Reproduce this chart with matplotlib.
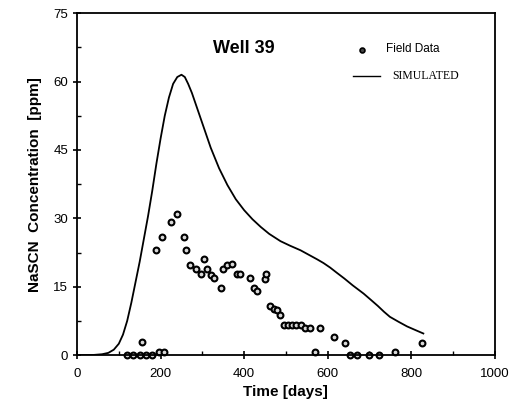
import matplotlib.pyplot as plt
from matplotlib.ticker import MultipleLocator

plt.rcParams['font.family'] = ['Liberation Sans', 'DejaVu Sans']

# field data (days, ppm)
field_t = [120, 135, 150, 155, 165, 180, 188, 196, 204, 208, 224, 239, 255, 262, 270,
           284, 296, 304, 312, 320, 329, 344, 350, 360, 370, 382, 391, 413, 423, 431,
           449, 453, 463, 471, 479, 487, 495, 505, 515, 525, 535, 546, 558, 570, 582,
           614, 642, 654, 671, 698, 723, 761, 825]
field_c = [0, 0, 0, 2.8, 0, 0, 23.0, 0.7, 25.9, 0.7, 29.1, 30.9, 25.9, 23.0, 19.7,
           19.0, 17.9, 21.0, 18.8, 17.5, 17.0, 14.8, 18.8, 19.7, 20.0, 17.7, 17.7, 17.0, 14.8, 14.0,
           16.8, 17.9, 10.7, 10.2, 10.0, 8.8, 6.7, 6.7, 6.7, 6.7, 6.7, 5.9, 5.9, 0.6, 5.9,
           3.9, 2.7, 0, 0, 0, 0, 0.6, 2.7]

# simulated curve
sim_t = [0, 40, 60, 75, 88, 100, 110, 120, 130, 140, 150, 160, 170, 180, 190, 200,
         210, 220, 230, 240, 250, 258, 266, 275, 290, 305, 320, 340, 360, 380, 400,
         420, 440, 460, 487, 510, 535, 555, 575, 590, 606, 620, 640, 660, 686, 705,
         720, 735, 749, 770, 790, 810, 829]
sim_c = [0, 0.05, 0.2, 0.5, 1.2, 2.5, 4.5, 7.5, 11.5, 16, 20.5, 25.5, 30.5, 36, 42, 47.5,
         52.5, 56.5, 59.5, 61, 61.5, 61, 59.5, 57.5, 53.5, 49.5, 45.5, 41, 37.3, 34.2, 31.8,
         29.8, 28.1, 26.6, 25, 24, 23, 22, 21, 20.2, 19.2, 18.2, 16.8, 15.3, 13.5, 12,
         10.8, 9.5, 8.4, 7.3, 6.3, 5.5, 4.75]

fig = plt.figure(figsize=(5.17, 4.12), dpi=100)
ax = fig.add_axes([0.149, 0.138, 0.808, 0.830])

ax.plot(sim_t, sim_c, color='black', lw=1.3)
ax.plot(field_t, field_c, 'o', ms=4.2, mfc='#d8d8d8', mec='black', mew=1.5, clip_on=False)

ax.set_xlim(0, 1000)
ax.set_ylim(0, 75)
ax.xaxis.set_major_locator(MultipleLocator(200))
ax.xaxis.set_minor_locator(MultipleLocator(100))
ax.yaxis.set_major_locator(MultipleLocator(15))
ax.yaxis.set_minor_locator(MultipleLocator(7.5))
ax.tick_params(which='major', direction='inout', length=6, width=1.2, labelsize=9.5)
ax.tick_params(which='minor', direction='in', length=3, width=1)
ax.tick_params(axis='x', pad=6)
for s in ax.spines.values():
    s.set_linewidth(1.3)

ax.set_xlabel('Time [days]', fontsize=11, fontweight='bold')
ax.set_ylabel('NaSCN  Concentration  [ppm]', fontsize=11, fontweight='bold', labelpad=8)

ax.text(400, 67.3, 'Well 39', fontsize=13, fontweight='bold', ha='center', va='center')

# legend drawn by hand
ax.plot([683], [66.9], 'o', ms=3.5, mfc='#444444', mec='black', mew=1.2)
ax.text(740, 67.2, 'Field Data', fontsize=8.5, va='center')
ax.plot([660, 725], [61.3, 61.3], color='black', lw=1)
ax.text(755, 61.3, 'SIMULATED', fontsize=8.5, va='center', family='Liberation Serif')

fig.savefig('out.png')
